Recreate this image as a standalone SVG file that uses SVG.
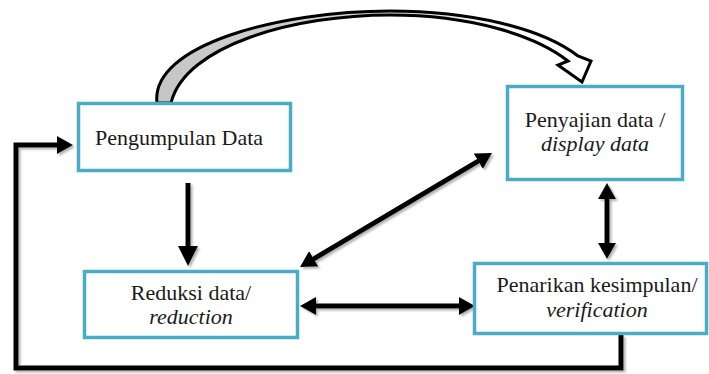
<svg xmlns="http://www.w3.org/2000/svg" width="709" height="374" viewBox="0 0 709 374">
<style>
.box{fill:#fff;stroke:#4bacc6;stroke-width:3.5}
.t{font-size:22px;fill:#1a1a1a}
.i{font-style:italic}
.c{fill:none;stroke:#000;stroke-width:5}
</style>
<defs>
<marker id="ah" viewBox="0 0 16 18" refX="1" refY="9" markerWidth="16" markerHeight="18" markerUnits="userSpaceOnUse" orient="auto-start-reverse">
<path d="M0,0 L16,9 L0,18 Z" fill="#000"/>
</marker>
<marker id="ahb" viewBox="0 0 20 20" refX="1" refY="10" markerWidth="20" markerHeight="20" markerUnits="userSpaceOnUse" orient="auto">
<path d="M0,0 L20,10 L0,20 Z" fill="#000"/>
</marker>
<filter id="sh" x="-10%" y="-10%" width="120%" height="120%">
<feDropShadow dx="2" dy="2" stdDeviation="1" flood-color="#808080" flood-opacity="0.6"/>
</filter>
<linearGradient id="cg" gradientUnits="userSpaceOnUse" x1="150" y1="0" x2="590" y2="0">
<stop offset="0" stop-color="#c4c4c4"/>
<stop offset="0.6" stop-color="#dcdcdc"/>
<stop offset="0.85" stop-color="#fff"/>
</linearGradient>
</defs>
<g id="connectors">
<path d="M157,103 C150,45 280,11 390,11 C470,11 542,28 578,56 L591,61 L582,82 L558,65 L568,61 C535,35 470,15 390,15 C295,15 185,45 171,103 Z" fill="url(#cg)" stroke="#000" stroke-width="3" stroke-linejoin="miter"/>
<g filter="url(#sh)">
<line class="c" x1="188" y1="183" x2="188" y2="247" marker-end="url(#ahb)"/>
<line class="c" x1="312.9" y1="259.3" x2="479.1" y2="160.7" marker-start="url(#ah)" marker-end="url(#ah)"/>
<line class="c" x1="315" y1="306" x2="460" y2="306" marker-start="url(#ah)" marker-end="url(#ah)"/>
<line class="c" x1="607" y1="198" x2="607" y2="244" marker-start="url(#ah)" marker-end="url(#ah)"/>
<polyline class="c" points="621,335 621,368 16,368 16,145 58,145" stroke-width="6" marker-end="url(#ah)"/>
</g>
</g>
<g font-family="Liberation Serif, Times New Roman, serif">
<g id="pengumpulan">
<rect class="box" x="78.5" y="103.5" width="212" height="67"/>
<text class="t" x="95" y="145">Pengumpulan Data</text>
</g>
<g id="penyajian">
<rect class="box" x="507.5" y="86.5" width="175" height="93"/>
<text class="t" x="595" y="127" text-anchor="middle">Penyajian data /</text>
<text class="t i" x="595" y="151" text-anchor="middle">display data</text>
</g>
<g id="reduksi">
<rect class="box" x="84.5" y="271.5" width="213" height="66"/>
<text class="t" x="191" y="300" text-anchor="middle">Reduksi data/</text>
<text class="t i" x="191" y="324" text-anchor="middle">reduction</text>
</g>
<g id="penarikan">
<rect class="box" x="474.5" y="263.5" width="232" height="70"/>
<text class="t" x="597" y="292" text-anchor="middle">Penarikan kesimpulan/</text>
<text class="t i" x="597" y="317" text-anchor="middle">verification</text>
</g>
</g>
</svg>
